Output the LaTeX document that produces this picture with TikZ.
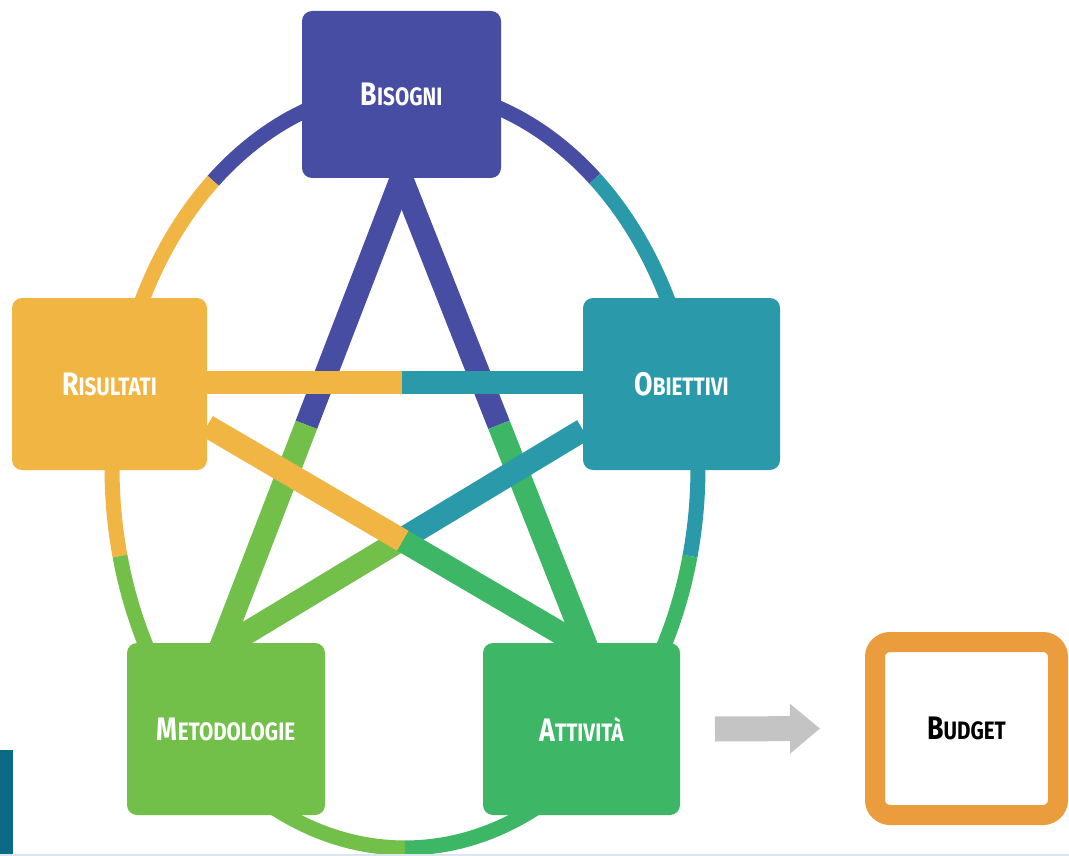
\documentclass[tikz,border=0pt]{standalone}
\usepackage{fontspec}
\setmainfont{Fira Sans}
\usetikzlibrary{calc,backgrounds,arrows.meta}
\definecolor{cB}{HTML}{464DA3}
\definecolor{cR}{HTML}{F0B542}
\definecolor{cO}{HTML}{2A9AAB}
\definecolor{cM}{HTML}{72C04A}
\definecolor{cA}{HTML}{3DB766}
\definecolor{cBu}{HTML}{EB9D3E}
\definecolor{cG}{HTML}{C4C4C4}
\definecolor{cBar}{HTML}{0B6A85}
\definecolor{cEdge}{HTML}{DCE6EE}
\newcommand{\fsc}[2]{\scalebox{0.86}[1.05]{\bfseries{\fontsize{31}{31}\selectfont #1}{\fontsize{24}{24}\selectfont #2}}}
\begin{document}
\begin{tikzpicture}[x=1pt,y=-1pt,
  box/.style={rounded corners=10pt, inner sep=0pt, outer sep=0pt, text=white,
              minimum width=197pt, minimum height=172pt},
  ring/.style={line width=15pt},
  link/.style={line width=23pt},
  budgetbox/.style={draw=cBu, line width=20pt, fill=white, rounded corners=15pt,
              minimum width=183pt, minimum height=173pt, text=black, inner sep=0pt}]
\useasboundingbox (0,0) rectangle (1069,856);

% nodes
\node[box, fill=cB, minimum width=199pt, minimum height=167pt] (B) at (401.5,94.5) {\fsc{B}{ISOGNI}};
\node[box, fill=cR, minimum width=195pt] (R) at (109.5,384) {\fsc{R}{ISULTATI}};
\node[box, fill=cO] (O) at (681.5,384) {\fsc{O}{BIETTIVI}};
\node[box, fill=cM, minimum width=198pt] (M) at (226,729) {\fsc{M}{ETODOLOGIE}};
\node[box, fill=cA] (A) at (581.5,729) {\fsc{A}{TTIVITÀ}};
\node[budgetbox] (Bu) at (966.5,728.5) {\fsc{B}{UDGET}};

% connection points
\coordinate (bS) at (B.south);
\coordinate (mT) at ($(M.north)+(-6,6)$);
\coordinate (aT) at ($(A.north)+(6,6)$);
\coordinate (rE1) at ($(R.east)+(0,-2)$);
\coordinate (oW1) at ($(O.west)+(0,-2)$);
\coordinate (rE2) at ($(R.east)+(0,42)$);
\coordinate (oW2) at ($(O.west)+(0,46)$);
\coordinate (sBM) at ($(bS)!0.524!(mT)$);
\coordinate (sBA) at ($(bS)!0.524!(aT)$);
\coordinate (sRO) at ($(rE1)!0.519!(oW1)$);
\coordinate (sRA) at ($(rE2)!0.515!(aT)$);
\coordinate (sOM) at ($(oW2)!0.496!(mT)$);

\begin{scope}[on background layer]
  \fill[white] (0,0) rectangle (1069,856);
  % surrounding ellipse
  \draw[ring, cB] plot[domain=49.6:130.9, samples=60] ({405+293*cos(\x)},{468-380*sin(\x)});
  \draw[ring, cR] plot[domain=130.9:193.4, samples=60] ({405+293*cos(\x)},{468-380*sin(\x)});
  \draw[ring, cM] plot[domain=193.4:270, samples=60] ({405+293*cos(\x)},{468-380*sin(\x)});
  \draw[ring, cA] plot[domain=270:346.6, samples=60] ({405+293*cos(\x)},{468-380*sin(\x)});
  \draw[ring, cO] plot[domain=-13.4:49.6, samples=60] ({405+293*cos(\x)},{468-380*sin(\x)});
  % star links
  \draw[link, cB] (bS) -- (sBM);
  \draw[link, cM] (sBM) -- (mT);
  \draw[link, cB] (bS) -- (sBA);
  \draw[link, cA] (sBA) -- (aT);
  \draw[link, cR] (rE1) -- (sRO);
  \draw[link, cO] (sRO) -- (oW1);
  \draw[link, cO] (oW2) -- (sOM);
  \draw[link, cM] (sOM) -- (mT);
  \draw[link, cR] (rE2) -- (sRA);
  \draw[link, cA] (sRA) -- (aT);
\end{scope}

% arrow to budget
\draw[cG, line width=25pt, -{Triangle[length=30pt,width=48pt]}] ([xshift=35pt]A.east) -- ([xshift=-45pt]Bu.west);

% frame details
\fill[cBar] (0,750) rectangle (13,856);
\draw[cEdge, line width=3pt] (0,855) -- (1069,855);
\end{tikzpicture}
\end{document}
